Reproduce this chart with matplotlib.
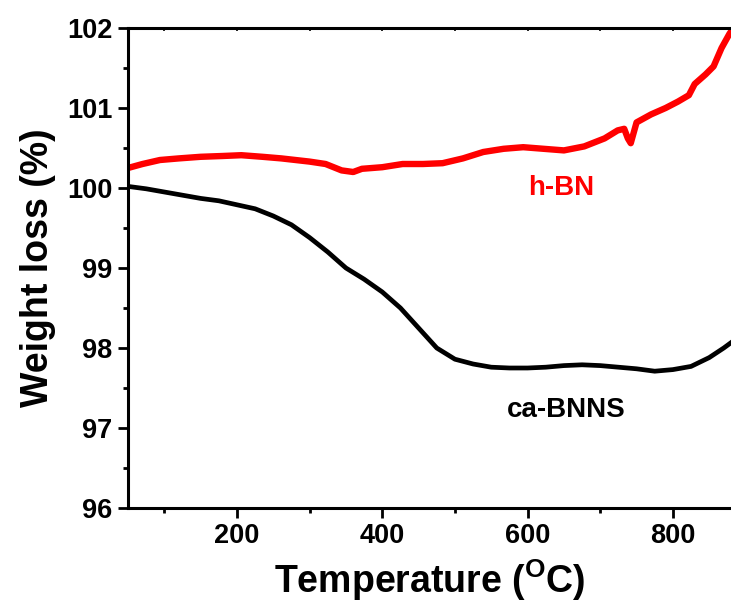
import matplotlib
matplotlib.use("Agg")
import matplotlib.pyplot as plt

plt.rcParams['font.family'] = ['Liberation Sans', 'DejaVu Sans']
plt.rcParams['font.weight'] = 'bold'
plt.rcParams['mathtext.fontset'] = 'custom'
plt.rcParams['mathtext.rm'] = 'Liberation Sans:bold'
plt.rcParams['mathtext.bf'] = 'Liberation Sans:bold'

# ca-BNNS (black)
bnns_T = [50, 75, 100, 125, 150, 175, 200, 225, 250, 275, 300, 325, 350, 375,
          400, 425, 450, 475, 500, 525, 550, 575, 600, 625, 650, 675, 700, 725,
          750, 775, 800, 825, 850, 870, 882]
bnns_W = [100.02, 99.99, 99.95, 99.91, 99.87, 99.84, 99.79, 99.74, 99.65, 99.54,
          99.38, 99.20, 99.00, 98.86, 98.70, 98.50, 98.25, 98.00, 97.86, 97.80,
          97.76, 97.75, 97.75, 97.76, 97.78, 97.79, 97.78, 97.76, 97.74, 97.71,
          97.73, 97.77, 97.88, 98.00, 98.08]

# h-BN (red)
hbn_T = [50, 70, 94, 120, 150, 180, 206, 235, 261, 300, 322, 344, 360, 372, 400, 428,
         456, 483, 511, 539, 567, 594, 622, 650, 678, 706, 724, 733, 738, 742,
         750, 770, 790, 807, 822, 830, 845, 856, 867, 878, 882]
hbn_W = [100.25, 100.30, 100.35, 100.37, 100.39, 100.40, 100.41, 100.39, 100.37,
         100.33, 100.30, 100.22, 100.20, 100.24, 100.26, 100.30, 100.30, 100.31, 100.37,
         100.45, 100.49, 100.51, 100.49, 100.47, 100.52, 100.62, 100.72, 100.74,
         100.62, 100.56, 100.82, 100.92, 101.00, 101.08, 101.16, 101.30, 101.42,
         101.52, 101.75, 101.93, 101.98]

xticks = [200, 400, 600, 800]
yticks = [96, 97, 98, 99, 100, 101, 102]

fig = plt.figure(figsize=(7.31, 6.07), dpi=100)
ax = fig.add_axes([128/731, 99/607, 1 - 128/731 + 0.002, (508-28)/607])

ax.plot(hbn_T, hbn_W, color='#ff0000', lw=4.6, solid_joinstyle='round')
ax.plot(bnns_T, bnns_W, color='black', lw=3.4, solid_joinstyle='round')

ax.set_xlim(50, 882)
ax.set_ylim(96, 102)
ax.set_xticks(xticks)
ax.set_xticks([100, 300, 500, 700], minor=True)
ax.set_yticks(yticks)
ax.set_yticks([96.5, 97.5, 98.5, 99.5, 100.5, 101.5], minor=True)

for s in ['left', 'bottom', 'top']:
    ax.spines[s].set_linewidth(2.2)
ax.spines['right'].set_visible(False)

ax.tick_params(axis='both', which='major', direction='out', length=7, width=2,
               labelsize=19.5, pad=4)
ax.tick_params(axis='both', which='minor', direction='out', length=3.5, width=2)
for lab in ax.get_xticklabels() + ax.get_yticklabels():
    lab.set_fontweight('bold')

sec = ax.secondary_xaxis('top')
sec.set_xticks([100, 200, 300, 400, 500, 600, 700, 800])
sec.tick_params(direction='in', length=2.5, width=1.2, labeltop=False)
sec.spines['top'].set_visible(False)

ax.set_xlabel(r'Temperature ($\mathbf{^{O}}$C)', fontsize=27, fontweight='bold', labelpad=6)
ax.set_ylabel('Weight loss (%)', fontsize=27, fontweight='bold', labelpad=8)

ax.text(646, 100.0, 'h-BN', color='#ff0000', fontsize=20, fontweight='bold',
        ha='center', va='center')
ax.text(653, 97.22, 'ca-BNNS', color='black', fontsize=20, fontweight='bold',
        ha='center', va='center')

fig.savefig('out.png', dpi=100)
